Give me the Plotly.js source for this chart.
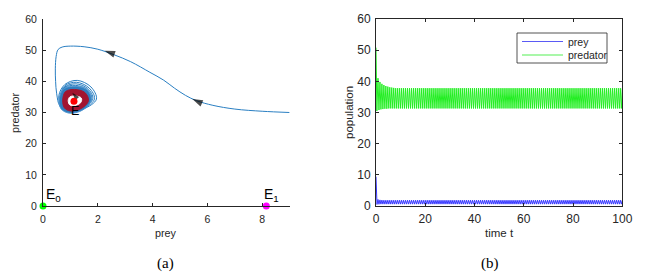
<!DOCTYPE html>
<html>
<head>
<meta charset="utf-8">
<script src="https://cdn.plot.ly/plotly-3.0.1.min.js"></script>
<style>html,body{margin:0;padding:0;background:#fff;}#chart{width:645px;height:277px;}</style>
</head>
<body>
<div id="chart"></div>
<script>
// ---------- (a) phase portrait data (prey, predator) ----------
const trajPrey = [9.0, 8.0, 7.0, 6.2, 5.6, 5.2, 4.8, 4.4, 3.9, 3.2, 2.6, 2.0, 1.5, 1.0, 0.7, 0.55, 0.48, 0.45, 0.46,
  0.50, 0.62, 0.95, 1.50, 1.95, 1.75, 1.25, 0.80,
  0.58, 0.66, 0.97, 1.48, 1.88, 1.68, 1.22, 0.80,
  0.62, 0.68, 0.98, 1.46, 1.82, 1.63, 1.20, 0.80,
  0.64, 0.69, 0.99, 1.45, 1.78, 1.60, 1.18, 0.80, 0.63];
const trajPred = [30.0, 30.4, 31.1, 32.3, 33.8, 35.5, 37.8, 40.4, 42.9, 46.3, 48.5, 50.3, 51.1, 51.3, 51.0, 50.2, 48.0, 44.0, 40.0,
  36.0, 32.0, 30.3, 31.2, 34.3, 38.2, 40.3, 39.0,
  35.5, 32.0, 30.4, 31.3, 34.4, 37.9, 39.7, 38.6,
  35.2, 31.9, 30.5, 31.4, 34.5, 37.7, 39.2, 38.2,
  35.0, 31.9, 30.6, 31.5, 34.5, 37.5, 38.7, 38.0, 35.0];
// dense limit-cycle band (outer boundary)
const bandPrey = [0.60, 0.65, 0.95, 1.45, 1.76, 1.60, 1.15, 0.75, 0.60];
const bandPred = [34.5, 31.3, 29.8, 30.8, 34.2, 37.3, 38.4, 37.5, 34.5];
// inner (red) trajectory region
const innerPrey = [0.72, 0.78, 1.00, 1.40, 1.66, 1.53, 1.15, 0.82, 0.72];
const innerPred = [34.0, 31.5, 30.5, 31.3, 33.8, 36.4, 37.4, 36.7, 34.0];
// white hole around E
const holePrey = [0.92, 0.98, 1.15, 1.38, 1.40, 1.20, 0.98, 0.92];
const holePred = [33.8, 32.4, 32.2, 33.2, 34.6, 35.3, 35.0, 33.8];
// direction arrows (position and heading in degrees, clockwise from up)
const arrowPrey = [2.25, 5.45, 1.07];
const arrowPred = [49.8, 34.3, 36.3];
const arrowAngle = [-71, -66, -40];
const arrowSize = [11, 11, 8];
// equilibria
const eqPrey = [0, 8.15, 1.13];
const eqPred = [0, 0, 33.6];
const eqColors = ['#00ff00', '#ff00ff', '#ff0000'];
const eqLabels = ['E<sub>0</sub>', 'E<sub>1</sub>', 'E'];

// ---------- (b) time series data ----------
const predT = [0, 0.1, 0.35, 0.8, 1.2, 1.6, 2.0, 2.4, 2.8, 3.2, 3.6, 4.0, 4.4, 4.8, 5.2, 5.6, 6.0, 6.4, 6.8, 7.2, 7.6];
const predV = [50.8, 44, 30.5, 41.0, 30.8, 39.8, 31.0, 39.2, 31.1, 38.8, 31.2, 38.5, 31.2, 38.3, 31.3, 38.1, 31.3, 38.0, 31.3, 37.9, 31.3];
const preyT = [0, 0.12, 0.4, 0.8, 1.2, 1.6, 2.0, 2.4, 2.8, 3.2, 3.6, 4.0, 4.4, 4.8, 5.2, 5.6, 6.0, 6.4, 6.8, 7.2, 7.6];
const preyV = [9.4, 2.5, 0.5, 2.1, 0.55, 1.95, 0.6, 1.9, 0.6, 1.85, 0.6, 1.85, 0.6, 1.85, 0.6, 1.85, 0.6, 1.85, 0.6, 1.85, 0.6];
const cyclePeriod = 0.8;
const predCyclePhase = [0.4, 0.8];
const predCycleVals = [37.8, 31.3];
const preyCyclePhase = [0.4, 0.8];
const preyCycleVals = [1.85, 0.6];
const tEnd = 100;
const seriesNames = ['prey', 'predator'];
const seriesColors = ['#3838ff', '#22ee22'];
const legendColors = ['#5a5af5', '#55f055'];

function extend(t, v, phase, vals) {
  const T = t.slice(), V = v.slice();
  let base = t[t.length - 1];
  while (true) {
    let stop = false;
    for (let i = 0; i < phase.length; i++) {
      const tt = base + phase[i];
      if (tt > tEnd) { stop = true; break; }
      T.push(tt); V.push(vals[i]);
    }
    if (stop) break;
    base += cyclePeriod;
  }
  return [T, V];
}
const [predTT, predVV] = extend(predT, predV, predCyclePhase, predCycleVals);
const [preyTT, preyVV] = extend(preyT, preyV, preyCyclePhase, preyCycleVals);

const W = 645, H = 277;
const px = v => v / W, py = v => 1 - v / H;
const trBlue = '#2a7fc2';
const darkRed = '#a2142f';
const axCol = '#262626';
const FAM = 'Liberation Sans, Arial, sans-serif';
const fontL = {family: FAM, size: 10.5, color: axCol};
const fontR = {family: FAM, size: 12, color: axCol};
const titleL = {family: FAM, size: 10.8, color: axCol};
const titleR = {family: FAM, size: 11.5, color: axCol};
const legFont = {family: FAM, size: 10.5, color: axCol};

const traces = [
  {x: trajPrey, y: trajPred, type: 'scatter', mode: 'lines', line: {color: trBlue, width: 1, shape: 'spline', smoothing: 1}, xaxis: 'x', yaxis: 'y', hoverinfo: 'skip'},
  {x: bandPrey, y: bandPred, type: 'scatter', mode: 'lines', fill: 'toself', fillcolor: '#2f7dbd', line: {color: '#4a92cf', width: 1, shape: 'spline'}, xaxis: 'x', yaxis: 'y', hoverinfo: 'skip'},
  {x: innerPrey, y: innerPred, type: 'scatter', mode: 'lines', fill: 'toself', fillcolor: darkRed, line: {color: darkRed, width: 1, shape: 'spline'}, xaxis: 'x', yaxis: 'y', hoverinfo: 'skip'},
  {x: holePrey, y: holePred, type: 'scatter', mode: 'lines', fill: 'toself', fillcolor: '#ffffff', line: {color: '#ffffff', width: 1, shape: 'spline'}, xaxis: 'x', yaxis: 'y', hoverinfo: 'skip'},
  {x: arrowPrey, y: arrowPred, type: 'scatter', mode: 'markers', marker: {symbol: 'arrow', angle: arrowAngle, size: arrowSize, color: '#000', line: {width: 0}}, xaxis: 'x', yaxis: 'y', hoverinfo: 'skip'},
  {x: eqPrey, y: eqPred, type: 'scatter', mode: 'markers', marker: {color: eqColors, size: 7}, cliponaxis: false, xaxis: 'x', yaxis: 'y', hoverinfo: 'skip'},
  {x: preyTT, y: preyVV, type: 'scatter', mode: 'lines', name: seriesNames[0], line: {color: seriesColors[0], width: 1}, xaxis: 'x2', yaxis: 'y2'},
  {x: predTT, y: predVV, type: 'scatter', mode: 'lines', name: seriesNames[1], line: {color: seriesColors[1], width: 1}, xaxis: 'x2', yaxis: 'y2'}
];

const labFont = {family: FAM, size: 14, color: '#000'};
const eFont = {family: FAM, size: 12.5, color: '#000'};
const capFont = {family: 'Liberation Serif, Times New Roman, serif', size: 15, color: '#000'};
const annotations = [
  {x: eqPrey[0], y: eqPred[0], xref: 'x', yref: 'y', text: eqLabels[0], showarrow: false, xanchor: 'left', yanchor: 'bottom', xshift: 1, yshift: 0, font: labFont},
  {x: eqPrey[1], y: eqPred[1], xref: 'x', yref: 'y', text: eqLabels[1], showarrow: false, xanchor: 'center', yanchor: 'bottom', xshift: 5, yshift: 0, font: labFont},
  {x: eqPrey[2], y: eqPred[2], xref: 'x', yref: 'y', text: eqLabels[2], showarrow: false, xanchor: 'center', yanchor: 'top', xshift: 1, yshift: -1, font: eFont},
  // axis titles
  {x: px(165.5), y: py(233), xref: 'paper', yref: 'paper', text: 'prey', showarrow: false, xanchor: 'center', yanchor: 'middle', font: titleL},
  {x: px(15), y: py(113), xref: 'paper', yref: 'paper', text: 'predator', textangle: -90, showarrow: false, xanchor: 'center', yanchor: 'middle', font: titleL},
  {x: px(499), y: py(233), xref: 'paper', yref: 'paper', text: 'time t', showarrow: false, xanchor: 'center', yanchor: 'middle', font: titleR},
  {x: px(349), y: py(113), xref: 'paper', yref: 'paper', text: 'population', textangle: -90, showarrow: false, xanchor: 'center', yanchor: 'middle', font: titleR},
  // captions
  {x: px(165), y: py(263), xref: 'paper', yref: 'paper', text: '(a)', showarrow: false, xanchor: 'center', yanchor: 'middle', font: capFont},
  {x: px(490), y: py(263), xref: 'paper', yref: 'paper', text: '(b)', showarrow: false, xanchor: 'center', yanchor: 'middle', font: capFont},
  // legend text
  {x: px(566), y: py(41.5), xref: 'paper', yref: 'paper', text: seriesNames[0], showarrow: false, xanchor: 'left', yanchor: 'middle', font: legFont},
  {x: px(566), y: py(55), xref: 'paper', yref: 'paper', text: seriesNames[1], showarrow: false, xanchor: 'left', yanchor: 'middle', font: legFont}
];

const shapes = [
  {type: 'rect', xref: 'paper', yref: 'paper', x0: px(517), x1: px(607), y0: py(63), y1: py(33), line: {color: axCol, width: 0.8}, fillcolor: '#fff', layer: 'above'},
  {type: 'line', xref: 'paper', yref: 'paper', x0: px(522), x1: px(563), y0: py(41.5), y1: py(41.5), line: {color: legendColors[0], width: 1.2}, layer: 'above'},
  {type: 'line', xref: 'paper', yref: 'paper', x0: px(522), x1: px(563), y0: py(55), y1: py(55), line: {color: legendColors[1], width: 1.2}, layer: 'above'}
];

const axBase = {showgrid: false, zeroline: false, showline: true, linecolor: axCol, linewidth: 1, ticks: 'inside', ticklen: 3, tickcolor: axCol, fixedrange: true};

const layout = {
  width: W, height: H,
  margin: {l: 0, r: 0, t: 0, b: 0},
  paper_bgcolor: '#fff', plot_bgcolor: '#fff',
  font: fontR,
  showlegend: false,
  xaxis: Object.assign({}, axBase, {domain: [px(43), px(289.6)], range: [0, 9], tickvals: [0, 2, 4, 6, 8], anchor: 'y', tickfont: fontL, ticklabelstandoff: 3}),
  yaxis: Object.assign({}, axBase, {domain: [py(206), py(19)], range: [0, 60], tickvals: [0, 10, 20, 30, 40, 50, 60], anchor: 'x', tickfont: fontL, ticklabelstandoff: 3}),
  xaxis2: Object.assign({}, axBase, {domain: [px(376), px(622.3)], range: [0, 100], tickvals: [0, 20, 40, 60, 80, 100], anchor: 'y2', mirror: 'ticks', tickfont: fontR, ticklabelstandoff: 2}),
  yaxis2: Object.assign({}, axBase, {domain: [py(206), py(19)], range: [0, 60], tickvals: [0, 10, 20, 30, 40, 50, 60], anchor: 'x2', mirror: 'ticks', tickfont: fontR, ticklabelstandoff: 2}),
  annotations: annotations,
  shapes: shapes
};

Plotly.newPlot('chart', traces, layout, {staticPlot: true, displayModeBar: false});
</script>
</body>
</html>
